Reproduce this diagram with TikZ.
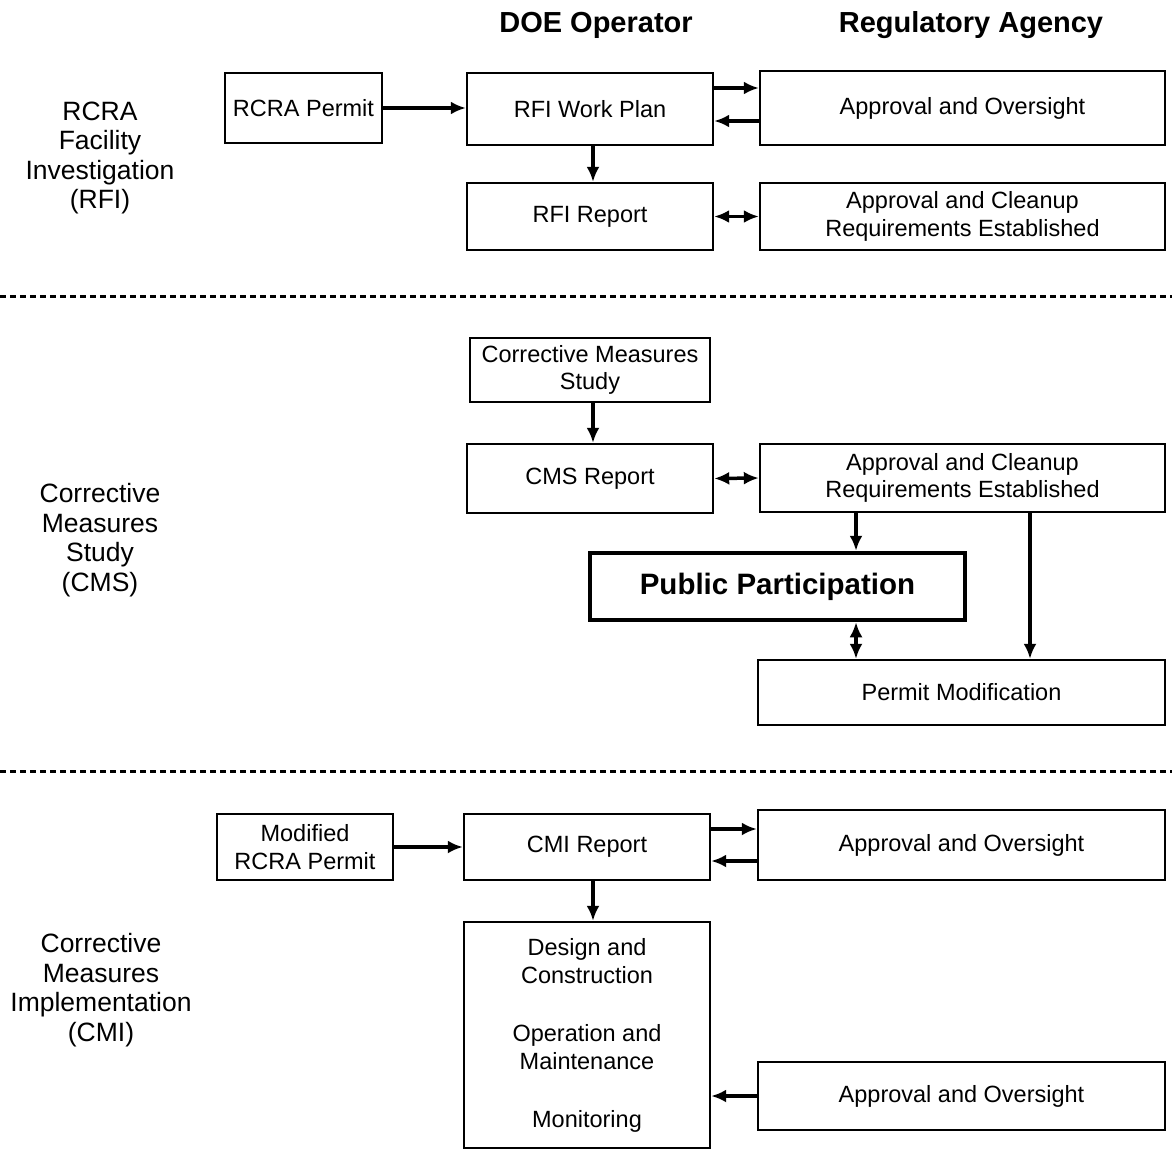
\documentclass[tikz,border=0pt]{standalone}
\usepackage{fontspec}
\setmainfont{Liberation Sans}
\usetikzlibrary{arrows.meta}
\begin{document}
\begin{tikzpicture}[x=1pt,y=-1pt,
  box/.style={draw, line width=2.4pt, rectangle, align=center, inner sep=0pt,
    font=\fontsize{23.5}{27.5}\selectfont},
  bigbox/.style={box, line width=4.5pt, font=\fontsize{29.5}{34}\selectfont\bfseries},
  phase/.style={align=center, font=\fontsize{26.5}{29.5}\selectfont},
  head/.style={font=\fontsize{29}{33}\selectfont\bfseries},
  tip/.tip={Latex[length=15pt,width=13pt]},
  arr/.style={line width=3.5pt, -tip},
  darr/.style={line width=3.5pt, tip-tip},
  sep/.style={line width=3pt, dash pattern=on 6pt off 4pt}]
\useasboundingbox (0,0) rectangle (1172,1156);

% column headings
\node[head] (hdoe) at (596,25) {DOE Operator};
\node[head] (hreg) at (971,25) {Regulatory Agency};

% phase labels
\node[phase] (prfi) at (100,158) {RCRA\\Facility\\Investigation\\(RFI)};
\node[phase] (pcms) at (100,540) {Corrective\\Measures\\Study\\(CMS)};
\node[phase] (pcmi) at (101,990) {Corrective\\Measures\\Implementation\\(CMI)};

% RFI phase
\node[box, minimum width=157, minimum height=70] (permit) at (303.5,108) {RCRA Permit};
\node[box, minimum width=246, minimum height=72] (wp) at (590,109) {RFI Work Plan};
\node[box, minimum width=405, minimum height=74] (app1) at (962.5,108) {Approval and Oversight};
\node[box, minimum width=246, minimum height=67] (rfir) at (590,216.5) {RFI Report};
\node[box, minimum width=405, minimum height=67] (app2) at (962.5,216.5) {Approval and Cleanup\\Requirements Established};

\draw[arr] (permit.east) -- (wp.west |- permit.east);
\draw[arr] ([yshift=21pt]wp.east) -- ([yshift=21pt]wp.east -| app1.west);
\draw[arr] ([yshift=-12pt]app1.west |- wp.east) -- ([yshift=-12pt]wp.east);
\draw[arr] ([xshift=3pt]wp.south) -- ([xshift=3pt]rfir.north);
\draw[darr] (rfir.east) -- (app2.west);

\draw[sep] (0,296) -- (1172,296);

% CMS phase
\node[box, minimum width=240, minimum height=64] (cmsst) at (590,370) {Corrective Measures\\Study};
\node[box, minimum width=246, minimum height=69] (cmsr) at (590,478.5) {CMS Report};
\node[box, minimum width=405, minimum height=68] (app3) at (962.5,478) {Approval and Cleanup\\Requirements Established};
\node[bigbox, minimum width=375, minimum height=67] (pp) at (777.5,586.5) {Public Participation};
\node[box, minimum width=407, minimum height=65] (pmod) at (961.5,692.5) {Permit Modification};

\draw[arr] ([xshift=3pt]cmsst.south) -- ([xshift=3pt]cmsr.north);
\draw[darr] (cmsr.east) -- (app3.west);
\draw[arr] ([xshift=-106.5pt]app3.south) -- ([xshift=-106.5pt]app3.south |- pp.north);
\draw[darr] ([xshift=78.5pt]pp.south) -- ([xshift=78.5pt]pp.south |- pmod.north);
\draw[arr] ([xshift=67.5pt]app3.south) -- ([xshift=67.5pt]app3.south |- pmod.north);

\draw[sep] (0,771) -- (1172,771);

% CMI phase
\node[box, minimum width=176, minimum height=66] (mpermit) at (305,847) {Modified\\RCRA Permit};
\node[box, minimum width=246, minimum height=66] (cmir) at (587,847) {CMI Report};
\node[box, minimum width=407, minimum height=70] (app4) at (961.5,845) {Approval and Oversight};
\node[box, minimum width=246, minimum height=226, font=\fontsize{23.5}{28}\selectfont] (dcm) at (587,1035)
  {Design and\\Construction\\[30pt]Operation and\\Maintenance\\[30pt]Monitoring};
\node[box, minimum width=407, minimum height=68] (app5) at (961.5,1096) {Approval and Oversight};

\draw[arr] (mpermit.east) -- (cmir.west |- mpermit.east);
\draw[arr] ([yshift=18pt]cmir.east) -- ([yshift=18pt]cmir.east -| app4.west);
\draw[arr] ([yshift=-14pt]app4.west |- cmir.east) -- ([yshift=-14pt]cmir.east);
\draw[arr] ([xshift=6pt]cmir.south) -- ([xshift=6pt]dcm.north);
\draw[arr] (app5.west) -- (dcm.east |- app5.west);
\end{tikzpicture}
\end{document}
